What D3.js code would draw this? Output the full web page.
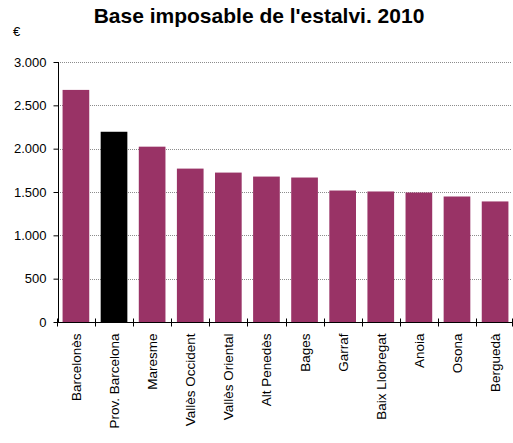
<!DOCTYPE html>
<html>
<head>
<meta charset="utf-8">
<script src="https://cdn.jsdelivr.net/npm/d3@7"></script>
<style>
body { margin: 0; background: #fff; }
</style>
</head>
<body>
<svg class="chart" font-family="Arial, 'Liberation Sans', sans-serif"></svg>
<script>
var width = 513, height = 443;

var comarques = ["Barcelonès", "Prov. Barcelona", "Maresme", "Vallès Occident", "Vallès Oriental",
    "Alt Penedès", "Bages", "Garraf", "Baix Llobregat", "Anoia", "Osona", "Berguedà"];
var base = [2678, 2195, 2023, 1770, 1724, 1678, 1667, 1517, 1506, 1494, 1448, 1391];
var yTicks = [0, 500, 1000, 1500, 2000, 2500, 3000];

var margin = {top: 62, right: 0, bottom: 120, left: 58};

var svg = d3.select(".chart")
    .attr("width", width)
    .attr("height", height);

var x = d3.scaleBand()
    .domain(comarques)
    .range([margin.left, width - margin.right])
    .paddingInner(0.3)
    .paddingOuter(0.12);

var y = d3.scaleLinear()
    .domain([0, 3000])
    .range([height - margin.bottom - 1, margin.top]);

var fmt = function (d) {
    return d3.format(",")(d).replace(/,/g, ".");
};

// gridlines
svg.append("g")
    .selectAll("line")
    .data(yTicks.slice(1))
    .enter().append("line")
    .attr("x1", margin.left)
    .attr("x2", width - 1)
    .attr("y1", function (d) { return Math.round(y(d)) + 0.5; })
    .attr("y2", function (d) { return Math.round(y(d)) + 0.5; })
    .attr("stroke", "#8c8c8c")
    .attr("stroke-dasharray", "1,1");

// bars
svg.append("g")
    .selectAll("rect")
    .data(base)
    .enter().append("rect")
    .attr("x", function (d, i) { return x(comarques[i]); })
    .attr("y", function (d) { return y(d); })
    .attr("width", x.bandwidth())
    .attr("height", function (d) { return y(0) - y(d); })
    .attr("fill", function (d, i) { return comarques[i] === "Prov. Barcelona" ? "#000000" : "#993366"; });

// y axis
var yAxis = svg.append("g")
    .attr("transform", "translate(" + (margin.left + 0.5) + ",0)")
    .call(d3.axisLeft(y).tickValues(yTicks).tickFormat(fmt).tickSize(5).tickPadding(7));
yAxis.attr("font-family", null);
yAxis.select(".domain").attr("d", "M0," + y(3000) + "V" + y(0));
yAxis.selectAll("text").style("font-size", "13px").attr("fill", "#000");

// x axis with ticks at band edges
var x0 = y(0) + 0.5;
svg.append("line")
    .attr("x1", margin.left).attr("x2", width)
    .attr("y1", x0).attr("y2", x0)
    .attr("stroke", "#000");

var step = x.step();
var edges = comarques.map(function (c) { return x(c) - x.paddingInner() * step / 2; });
edges.push(width - 1);
svg.append("g")
    .selectAll("line")
    .data(edges)
    .enter().append("line")
    .attr("x1", function (d) { return Math.round(d) + 0.5; })
    .attr("x2", function (d) { return Math.round(d) + 0.5; })
    .attr("y1", x0 - 4)
    .attr("y2", x0 + 4)
    .attr("stroke", "#000");

svg.append("g")
    .selectAll("text")
    .data(comarques)
    .enter().append("text")
    .attr("transform", function (d) {
        return "translate(" + (x(d) + x.bandwidth() / 2 + 5) + "," + (x0 + 11) + ") rotate(-90)";
    })
    .attr("text-anchor", "end")
    .style("font-size", "13.5px")
    .text(function (d) { return d; });

// title and unit
svg.append("text")
    .attr("x", 259)
    .attr("y", 23)
    .attr("text-anchor", "middle")
    .style("font-size", "21px")
    .style("font-weight", "bold")
    .text("Base imposable de l'estalvi. 2010");

svg.append("text")
    .attr("x", 13)
    .attr("y", 36)
    .style("font-size", "13px")
    .text("€");
</script>
</body>
</html>
